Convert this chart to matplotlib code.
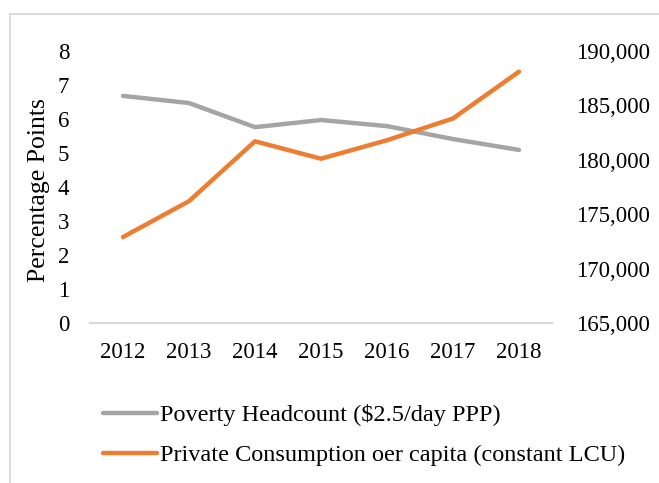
import matplotlib
matplotlib.use("Agg")
import matplotlib.pyplot as plt
from matplotlib.patches import Rectangle
from matplotlib.ticker import FuncFormatter

years = ["2012", "2013", "2014", "2015", "2016", "2017", "2018"]
poverty = [6.68, 6.47, 5.76, 5.97, 5.79, 5.41, 5.09]
consumption = [172900, 176200, 181700, 180100, 181800, 183800, 188100]
poverty_label = "Poverty Headcount ($2.5/day PPP)"
consumption_label = "Private Consumption oer capita (constant LCU)"

plt.rcParams['font.family'] = ['Liberation Serif', 'DejaVu Serif']
FS = 16.5

W, H = 659, 483
fig = plt.figure(figsize=(W/100, H/100), dpi=100)
ax = fig.add_axes([90/W, 1-323/H, (552-90)/W, (323-51)/H])
ax2 = ax.twinx()

x = list(range(len(years)))
l1, = ax.plot(x, poverty, color="#A5A5A5", lw=3.2, solid_capstyle='round', label=poverty_label)
l2, = ax2.plot(x, consumption, color="#ED7D31", lw=3.2, solid_capstyle='round', label=consumption_label)

ax.set_xlim(-0.5, len(years)-0.5)
ax.set_ylim(0, 8)
ax.set_yticks(range(0, 9))
ax2.set_ylim(165000, 190000)
ax2.set_yticks(range(165000, 190001, 5000))
ax2.yaxis.set_major_formatter(FuncFormatter(lambda v, p: f"{int(v):,}"))
ax.set_xticks(x)
ax.set_xticklabels(years)

for a in (ax, ax2):
    for s in ['top', 'right', 'left', 'bottom']:
        a.spines[s].set_visible(False)
    a.tick_params(length=0, labelsize=FS)
ax.spines['bottom'].set_visible(True)
ax.spines['bottom'].set_color("#D9D9D9")
ax.spines['bottom'].set_linewidth(1.5)
ax.tick_params(axis='y', pad=15)
ax.tick_params(axis='x', pad=14)
ax2.tick_params(axis='y', pad=17.5)

ax.set_ylabel("Percentage Points", fontsize=18.5)
ax.yaxis.set_label_coords((50-90)/462, 0.49)

fig.patches.append(Rectangle((10/W, -0.1), 1.2, 1-14/H+0.1, transform=fig.transFigure,
                             fill=False, edgecolor="#D9D9D9", lw=1.3))

leg = fig.legend(handles=[l1, l2], loc='upper left', bbox_to_anchor=(103/W, 1-404/H),
                 frameon=False, fontsize=17.5, handlelength=2.22, handletextpad=0.12,
                 labelspacing=0.76, borderaxespad=0, borderpad=0)

fig.savefig("out.png", dpi=100)
